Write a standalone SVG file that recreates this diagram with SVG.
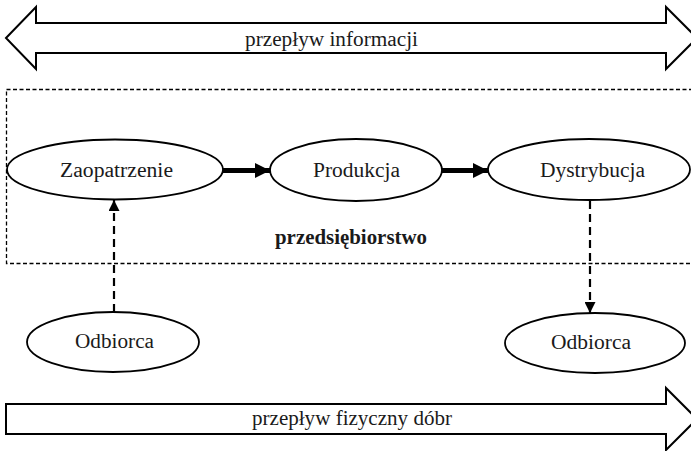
<svg xmlns="http://www.w3.org/2000/svg" width="691" height="451" viewBox="0 0 691 451">
<defs>
<style>
.big{fill:#fff;stroke:#000;stroke-width:2;stroke-linejoin:miter}
.node{fill:#fff;stroke:#000;stroke-width:1.8}
.t{font-family:"Liberation Serif","Times New Roman",serif;font-size:20px;fill:#1a1a1a;text-anchor:middle}
.b{font-weight:bold}
.thick{stroke:#000;stroke-width:5;fill:none}
.dash{stroke:#000;stroke-width:2.2;stroke-dasharray:8 5;fill:none}
.frame{fill:none;stroke:#000;stroke-width:1.3;stroke-dasharray:4 2.5}
</style>
<marker id="ah" viewBox="0 0 10 10" refX="10" refY="5" markerWidth="3" markerHeight="3.2" orient="auto" markerUnits="strokeWidth">
<path d="M0,0 L10,5 L0,10 Z" fill="#000"/>
</marker>
<marker id="ahd" viewBox="0 0 10 10" refX="10" refY="5" markerWidth="6" markerHeight="5" orient="auto" markerUnits="strokeWidth">
<path d="M0,0 L10,5 L0,10 Z" fill="#000"/>
</marker>
</defs>
<rect width="691" height="451" fill="#fff"/>
<g id="info-flow">
<polygon class="big" points="6,38 36,7 36,23 666,23 666,7 697,38 666,69 666,53 36,53 36,69"/>
<text class="t" x="331.5" y="46" textLength="173" lengthAdjust="spacingAndGlyphs">przepływ informacji</text>
</g>
<g id="enterprise">
<rect class="frame" x="6.5" y="89.5" width="700" height="174"/>
<text class="t b" x="351" y="244" textLength="152" lengthAdjust="spacingAndGlyphs">przedsiębiorstwo</text>
</g>
<g id="connectors">
<line class="thick" x1="223" y1="170.5" x2="270" y2="170.5" marker-end="url(#ah)"/>
<line class="thick" x1="442" y1="170.5" x2="488" y2="170.5" marker-end="url(#ah)"/>
<line class="dash" x1="114" y1="312" x2="114" y2="200" marker-end="url(#ahd)"/>
<line class="dash" x1="590" y1="201" x2="590" y2="313" marker-end="url(#ahd)"/>
</g>
<g id="zaopatrzenie">
<ellipse class="node" cx="115" cy="169.5" rx="108" ry="30"/>
<text class="t" x="116.5" y="177" textLength="113" lengthAdjust="spacingAndGlyphs">Zaopatrzenie</text>
</g>
<g id="produkcja">
<ellipse class="node" cx="356" cy="170" rx="86" ry="31"/>
<text class="t" x="356.5" y="177" textLength="87" lengthAdjust="spacingAndGlyphs">Produkcja</text>
</g>
<g id="dystrybucja">
<ellipse class="node" cx="589" cy="169.5" rx="101" ry="30.5"/>
<text class="t" x="592.5" y="177" textLength="105" lengthAdjust="spacingAndGlyphs">Dystrybucja</text>
</g>
<g id="odbiorca-1">
<ellipse class="node" cx="113" cy="342" rx="86" ry="30"/>
<text class="t" x="114.5" y="348" textLength="79" lengthAdjust="spacingAndGlyphs">Odbiorca</text>
</g>
<g id="odbiorca-2">
<ellipse class="node" cx="595" cy="343" rx="90" ry="30"/>
<text class="t" x="591" y="349" textLength="80" lengthAdjust="spacingAndGlyphs">Odbiorca</text>
</g>
<g id="goods-flow">
<polygon class="big" points="6,404 666,404 666,388 697,419 666,450 666,434 6,434"/>
<text class="t" x="352" y="425" textLength="200" lengthAdjust="spacingAndGlyphs">przepływ fizyczny dóbr</text>
</g>
</svg>
